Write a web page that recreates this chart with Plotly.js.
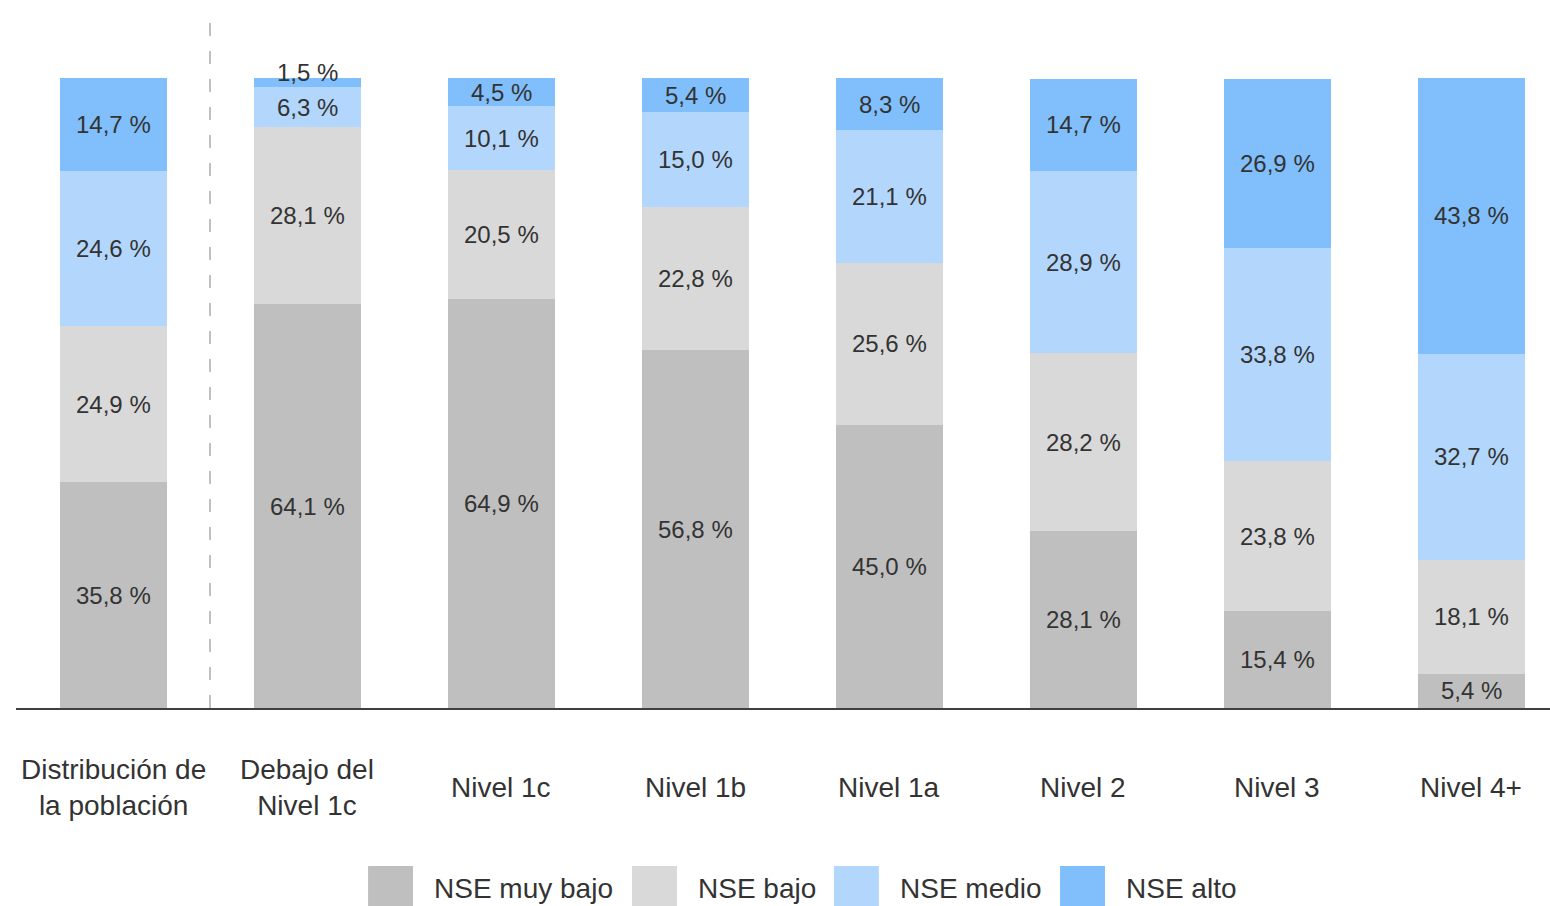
<!DOCTYPE html>
<html>
<head>
<meta charset="utf-8">
<script src="https://cdn.plot.ly/plotly-3.0.1.min.js"></script>
<style>html,body{margin:0;padding:0;background:#fff;}#chart{width:1550px;height:906px;}</style>
</head>
<body>
<div id="chart"></div>
<script>
const categories = ["Distribución de<br>la población", "Debajo del<br>Nivel 1c", "Nivel 1c", "Nivel 1b", "Nivel 1a", "Nivel 2", "Nivel 3", "Nivel 4+"];
const seriesNames = ["NSE muy bajo", "NSE bajo", "NSE medio", "NSE alto"];
const nseMuyBajo = [35.8, 64.1, 64.9, 56.8, 45.0, 28.1, 15.4, 5.4];
const nseBajo    = [24.9, 28.1, 20.5, 22.8, 25.6, 28.2, 23.8, 18.1];
const nseMedio   = [24.6, 6.3, 10.1, 15.0, 21.1, 28.9, 33.8, 32.7];
const nseAlto    = [14.7, 1.5, 4.5, 5.4, 8.3, 14.7, 26.9, 43.8];
const colors = ["#bfbfbf", "#d9d9d9", "#b3d7fc", "#80bffb"];

const series = [nseMuyBajo, nseBajo, nseMedio, nseAlto];
const xIdx = categories.map((c, i) => i);
const FONT = '"Liberation Sans", Arial, sans-serif';
const TXT = '#333333';

const fmt = v => v.toFixed(1).replace('.', ',') + ' %';

const traces = series.map((vals, s) => ({
  type: 'bar',
  name: seriesNames[s],
  x: xIdx,
  y: vals,
  marker: {color: colors[s], line: {width: 0}},
  hoverinfo: 'skip',
  showlegend: false
}));

const annotations = [];
// value labels centred in each segment
const cum = xIdx.map(() => 0);
series.forEach((vals, s) => {
  vals.forEach((v, i) => {
    const mid = cum[i] + v / 2;
    annotations.push({
      x: i, y: mid, xref: 'x', yref: 'y',
      text: fmt(v), showarrow: false,
      yshift: v < 3 ? 10 : 0,
      font: {family: FONT, size: 24, color: TXT}
    });
    cum[i] += v;
  });
});
// category labels
categories.forEach((c, i) => {
  annotations.push({
    x: i, y: -0.1254, xref: 'x', yref: 'paper',
    text: c, showarrow: false, yanchor: 'middle', align: 'center',
    font: {family: FONT, size: 28, color: TXT}
  });
});

// custom legend
const legendSwatchX = [0.2295, 0.4016, 0.5332, 0.6806];
const shapes = [{
  type: 'line', xref: 'x', yref: 'paper', x0: 0.5, x1: 0.5, y0: 0, y1: 1.11,
  line: {color: '#c0c0c0', width: 2, dash: '13px,15px'}
}];
seriesNames.forEach((n, s) => {
  const x0 = legendSwatchX[s];
  shapes.push({
    type: 'rect', xref: 'paper', yref: 'paper',
    x0: x0, x1: x0 + 0.0293, y0: -0.3222, y1: -0.2508,
    fillcolor: colors[s], line: {width: 0}
  });
  annotations.push({
    x: x0 + 0.0417, y: -0.2873, xref: 'paper', yref: 'paper',
    text: n, showarrow: false, xanchor: 'left', yanchor: 'middle',
    font: {family: FONT, size: 28, color: TXT}
  });
});

const layout = {
  width: 1550, height: 906,
  margin: {l: 16, r: 0, t: 78, b: 198},
  paper_bgcolor: '#ffffff', plot_bgcolor: '#ffffff',
  barmode: 'stack',
  bargap: 0.4485,
  showlegend: false,
  font: {family: FONT, color: TXT},
  xaxis: {
    range: [-0.5, 7.407], showgrid: false, zeroline: false,
    showticklabels: false, ticks: '',
    showline: true, linecolor: '#404040', linewidth: 2
  },
  yaxis: {
    range: [0, 100], showgrid: false, zeroline: false,
    showticklabels: false, ticks: '', showline: false
  },
  annotations: annotations,
  shapes: shapes
};

Plotly.newPlot('chart', traces, layout, {displayModeBar: false, staticPlot: true});
</script>
</body>
</html>
